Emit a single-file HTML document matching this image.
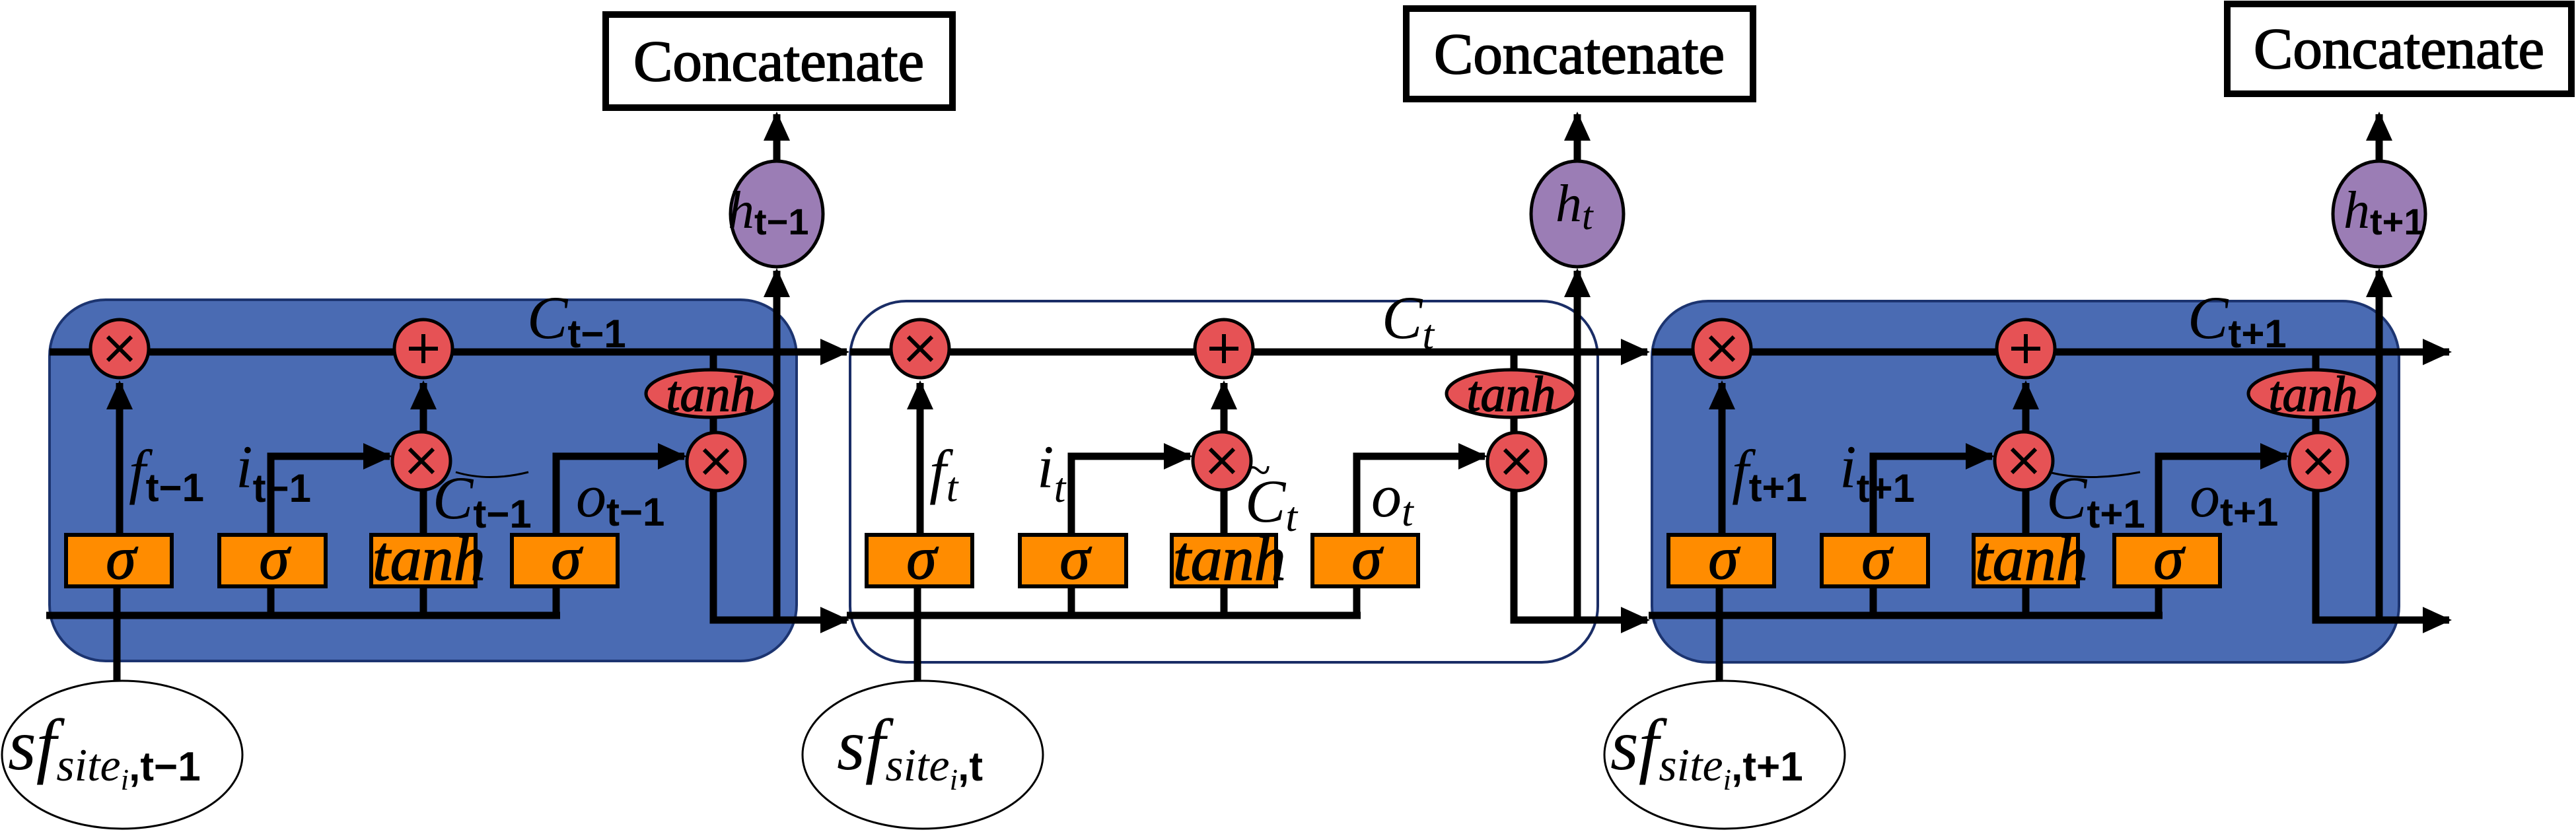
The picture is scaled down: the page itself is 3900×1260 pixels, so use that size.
<!DOCTYPE html>
<html><head><meta charset="utf-8"><style>
html,body{margin:0;padding:0;background:#fff;width:3900px;height:1260px;overflow:hidden}
svg{display:block}
.m{font-family:"Liberation Serif",serif;font-style:italic}
.s{font-family:"Liberation Sans",sans-serif;font-weight:bold;font-style:normal}
</style></head><body>
<svg width="3900" height="1260" viewBox="0 0 3900 1260" xmlns="http://www.w3.org/2000/svg">
<defs>
<marker id="a" markerUnits="userSpaceOnUse" markerWidth="44" markerHeight="40" refX="40" refY="20" orient="auto"><path d="M0,0 L44,20 L0,40 Z" fill="#000"/></marker>
<g id="cellbody">
  <g stroke="#000" stroke-width="11" fill="none">
    <path d="M75 533 H1282" marker-end="url(#a)"/>
    <path d="M70 932 H848"/>
    <path d="M177 1033 V888"/>
    <path d="M181 810 V580" marker-end="url(#a)"/>
    <path d="M410 932 V888 M410 810 V691 H590" marker-end="url(#a)"/>
    <path d="M641 932 V888 M641 810 V742"/>
    <path d="M641 654 V580" marker-end="url(#a)"/>
    <path d="M842 932 V888 M842 810 V691 H1036" marker-end="url(#a)"/>
    <path d="M1080 533 V655"/>
    <path d="M1080 743 V939 H1282" marker-end="url(#a)"/>
    <path d="M1176 939 V410" marker-end="url(#a)"/>
    <path d="M1176 244 V173" marker-end="url(#a)"/>
  </g>
  <g fill="#e65255" stroke="#000" stroke-width="5">
    <circle cx="181" cy="528" r="44"/>
    <circle cx="641" cy="528" r="44"/>
    <circle cx="638" cy="698" r="44"/>
    <circle cx="1084" cy="699" r="44"/>
    <ellipse cx="1076" cy="596" rx="98" ry="36"/>
  </g>
  <g stroke="#000" stroke-width="6">
    <path d="M163 510 L199 546 M199 510 L163 546"/>
    <path d="M620 680 L656 716 M656 680 L620 716"/>
    <path d="M1066 681 L1102 717 M1102 681 L1066 717"/>
    <path d="M641 506 V550 M619 528 H663"/>
  </g>
  <g fill="#ff8c00" stroke="#000" stroke-width="6">
    <rect x="100" y="810" width="160" height="78"/>
    <rect x="332" y="810" width="161" height="78"/>
    <rect x="562" y="810" width="158" height="78"/>
    <rect x="775" y="810" width="160" height="78"/>
  </g>
  <g class="m" fill="#000" stroke="#000" stroke-width="1.5">
    <text x="183" y="876" font-size="92" text-anchor="middle">σ</text>
    <text x="415" y="876" font-size="92" text-anchor="middle">σ</text>
    <text x="857" y="876" font-size="92" text-anchor="middle">σ</text>
    <text x="564" y="878" font-size="96">tanh</text>
    <text x="1076" y="622" font-size="76" text-anchor="middle">tanh</text>
  </g>
  <ellipse cx="1176" cy="324" rx="70" ry="80" fill="#9b7db5" stroke="#000" stroke-width="5"/>
  <ellipse cx="185" cy="1143" rx="182" ry="112" fill="#fff" stroke="#000" stroke-width="3"/>
</g>
</defs>

<rect x="75" y="454" width="1131" height="547" rx="85" fill="#4a6bb3" stroke="#1c3470" stroke-width="4"/>
<use href="#cellbody"/>
<rect x="1287" y="456" width="1132" height="547" rx="85" fill="#fff" stroke="#1a2d66" stroke-width="4"/>
<use href="#cellbody" x="1212"/>
<rect x="2501" y="456" width="1131" height="547" rx="85" fill="#4a6bb3" stroke="#1c3470" stroke-width="4"/>
<use href="#cellbody" x="2426"/>

<g fill="#fff" stroke="#000" stroke-width="10">
  <rect x="917" y="22" width="525" height="141"/>
  <rect x="2129" y="13" width="525" height="137"/>
  <rect x="3372" y="6" width="521" height="136"/>
</g>
<g font-family="Liberation Serif, serif" font-size="88" fill="#000" stroke="#000" stroke-width="1.8" text-anchor="middle">
  <text x="1179" y="122" textLength="440" lengthAdjust="spacingAndGlyphs">Concatenate</text>
  <text x="2391" y="111" textLength="440" lengthAdjust="spacingAndGlyphs">Concatenate</text>
  <text x="3632" y="103" textLength="440" lengthAdjust="spacingAndGlyphs">Concatenate</text>
</g>

<g class="m" fill="#000">
  <text x="798" y="512" font-size="92">C<tspan class="s" font-size="60" dy="14">t−1</tspan></text>
  <text x="195" y="745" font-size="92">f<tspan class="s" font-size="60" dy="14">t−1</tspan></text>
  <text x="357" y="738" font-size="92">i<tspan class="s" font-size="60" dy="22">t−1</tspan></text>
  <text x="655" y="785" font-size="92">C<tspan class="s" font-size="60" dy="14">t−1</tspan></text>
  <text x="872" y="782" font-size="92">o<tspan class="s" font-size="60" dy="14">t−1</tspan></text>
  <text x="1102" y="345" font-size="80">h<tspan class="s" font-size="56" dy="10">t−1</tspan></text>
  <text x="12" y="1165" font-size="110">sf<tspan font-size="70" dy="17">site</tspan><tspan font-size="45" dy="14">i</tspan><tspan class="s" font-size="62" dy="-14">,t−1</tspan></text>
  <path d="M690 715 Q740 730 800 715" stroke="#000" stroke-width="3" fill="none"/>
  <text x="2092" y="512" font-size="92">C<tspan font-size="64" dy="16">t</tspan></text>
  <text x="1407" y="745" font-size="92">f<tspan font-size="64" dy="14">t</tspan></text>
  <text x="1570" y="738" font-size="92">i<tspan font-size="64" dy="22">t</tspan></text>
  <text x="1885" y="790" font-size="92">C<tspan font-size="64" dy="14">t</tspan></text>
  <text x="1885" y="735" font-size="70">~</text>
  <text x="2076" y="782" font-size="92">o<tspan font-size="64" dy="14">t</tspan></text>
  <text x="2355" y="335" font-size="80">h<tspan font-size="60" dy="12">t</tspan></text>
  <text x="1267" y="1165" font-size="110">sf<tspan font-size="70" dy="17">site</tspan><tspan font-size="45" dy="14">i</tspan><tspan class="s" font-size="62" dy="-14">,t</tspan></text>
  <text x="3312" y="512" font-size="92">C<tspan class="s" font-size="60" dy="14">t+1</tspan></text>
  <text x="2622" y="745" font-size="92">f<tspan class="s" font-size="60" dy="14">t+1</tspan></text>
  <text x="2785" y="738" font-size="92">i<tspan class="s" font-size="60" dy="22">t+1</tspan></text>
  <text x="3098" y="785" font-size="92">C<tspan class="s" font-size="60" dy="14">t+1</tspan></text>
  <text x="3315" y="782" font-size="92">o<tspan class="s" font-size="60" dy="14">t+1</tspan></text>
  <text x="3548" y="345" font-size="80">h<tspan class="s" font-size="56" dy="10">t+1</tspan></text>
  <text x="2438" y="1165" font-size="110">sf<tspan font-size="70" dy="17">site</tspan><tspan font-size="45" dy="14">i</tspan><tspan class="s" font-size="62" dy="-14">,t+1</tspan></text>
  <path d="M3102 715 Q3160 730 3240 715" stroke="#000" stroke-width="3" fill="none"/>
</g>
</svg>
</body></html>
